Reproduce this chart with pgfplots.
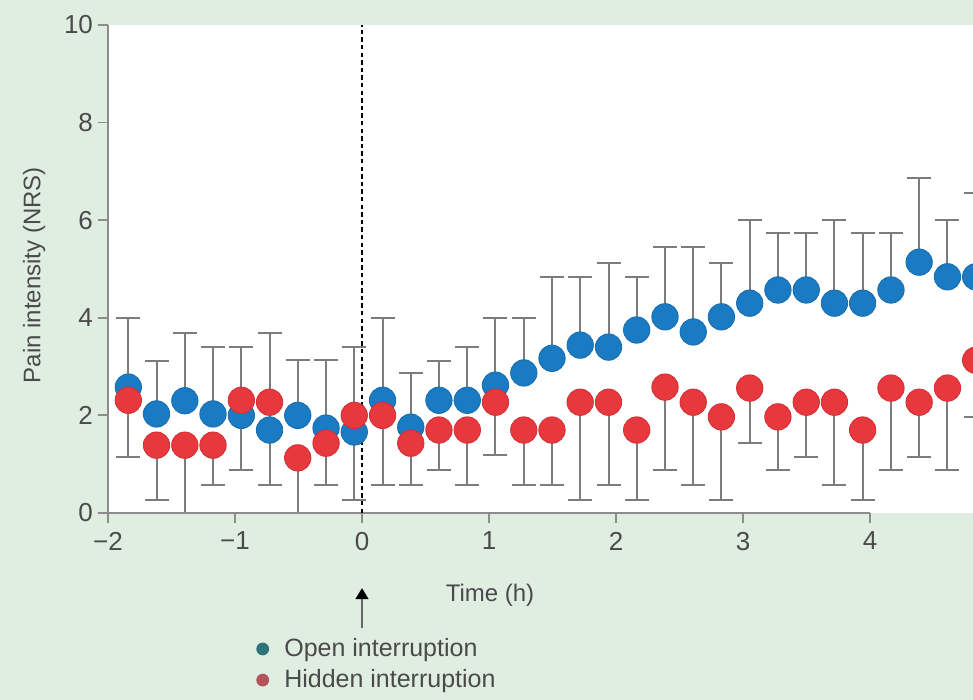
\documentclass[border=0pt]{standalone}
\usepackage{pgfplots}
\pgfplotsset{compat=1.18}
\usepackage{pgfplotstable}
\usepackage{fontspec}
\setmainfont{Liberation Sans}
\usetikzlibrary{arrows.meta}
\definecolor{bggreen}{HTML}{E0EEE2}
\definecolor{ptblue}{HTML}{1A7AC2}
\definecolor{ptblueedge}{HTML}{166DB0}
\definecolor{ptred}{HTML}{E6383D}
\definecolor{ptrededge}{HTML}{D42E34}
\definecolor{legteal}{HTML}{2E7479}
\definecolor{legred}{HTML}{B5535A}
\definecolor{axgray}{HTML}{8C8C8C}
\definecolor{barg}{HTML}{7C7C7C}
\definecolor{txtgray}{HTML}{4A4A4A}

% x: time (h); by: open mean; bu: open upper; ry: hidden mean; rl: hidden lower
\pgfplotstableread{
x      by    bu    ry    rl
-1.840 2.58  4.00  2.31  1.15
-1.618 2.03  3.11  1.39  0.27
-1.395 2.30  3.69  1.39  0.00
-1.173 2.03  3.40  1.39  0.57
-0.950 2.00  3.40  2.31  0.88
-0.728 1.70  3.69  2.27  0.57
-0.506 2.00  3.13  1.13  0.00
-0.283 1.74  3.13  1.43  0.57
-0.061 1.66  3.40  2.00  0.27
 0.162 2.31  4.00  2.00  0.57
 0.384 1.76  2.87  1.43  0.57
 0.606 2.31  3.11  1.70  0.88
 0.829 2.31  3.40  1.70  0.57
 1.051 2.62  4.00  2.27  1.19
 1.274 2.87  4.00  1.70  0.57
 1.496 3.17  4.84  1.70  0.57
 1.718 3.44  4.84  2.27  0.27
 1.941 3.40  5.12  2.27  0.57
 2.163 3.75  4.84  1.70  0.27
 2.386 4.02  5.45  2.58  0.88
 2.608 3.71  5.45  2.27  0.57
 2.830 4.02  5.12  1.97  0.27
 3.053 4.30  6.00  2.56  1.43
 3.275 4.57  5.74  1.97  0.88
 3.498 4.57  5.74  2.27  1.15
 3.720 4.30  6.00  2.27  0.57
 3.942 4.30  5.74  1.70  0.27
 4.165 4.57  5.74  2.56  0.88
 4.387 5.14  6.86  2.27  1.15
 4.610 4.84  6.00  2.56  0.88
 4.832 4.84  6.55  3.13  1.97
}\datatable

\begin{document}
\begin{tikzpicture}
\fill[bggreen] (-54pt,-93.5pt) rectangle (432.5pt,256.5pt);
\useasboundingbox (-54pt,-93.5pt) rectangle (432.5pt,256.5pt);
\clip (-54pt,-93.5pt) rectangle (432.5pt,256.5pt);
\begin{axis}[
  at={(0pt,0pt)}, anchor=south west,
  scale only axis, width=432.5pt, height=244pt,
  xmin=-2, xmax=4.811, ymin=0, ymax=10,
  clip=false,
  axis background/.style={fill=white},
  axis x line*=bottom, axis y line*=left,
  x axis line style={draw=none},
  y axis line style={axgray, line width=1pt},
  tick align=outside,
  major tick length=5pt,
  tick style={axgray, line width=0.9pt},
  xtick={-2,-1,0,1,2,3,4},
  xticklabels={−2,−1,0,1,2,3,4},
  ytick={0,2,4,6,8,10},
  yticklabels={0,2,4,6,8,10},
  ticklabel style={font=\fontsize{13}{15}\selectfont, text=txtgray},
  xticklabel style={yshift=-1pt},
  yticklabel style={xshift=1pt},
  xlabel={Time (h)},
  xlabel style={at={(axis description cs:0.4416,-0.168)}, anchor=center, font=\fontsize{12}{14}\selectfont, text=txtgray},
  ylabel={Pain intensity (NRS)},
  ylabel style={at={(axis description cs:-0.0855,0.4877)}, anchor=center, font=\fontsize{12}{14}\selectfont, text=txtgray},
  legend style={at={(axis description cs:0.171,-0.250)}, anchor=north west, draw=none, fill=none,
    inner sep=0pt, font=\fontsize{12.5}{14}\selectfont, text=txtgray,
    nodes={inner sep=1.5pt}, row sep=2pt},
  legend cell align=left,
]
% error bars (behind markers)
\addplot[forget plot, draw=none, mark=none,
  error bars/.cd, y dir=plus, y explicit,
  error bar style={barg, line width=1pt},
  error mark options={rotate=90, barg, line width=1pt, mark size=6pt}]
  table[x=x, y=by, y error plus expr=\thisrow{bu}-\thisrow{by}] {\datatable};
\addplot[forget plot, draw=none, mark=none,
  error bars/.cd, y dir=minus, y explicit,
  error bar style={barg, line width=1pt},
  error mark options={rotate=90, barg, line width=1pt, mark size=6pt}]
  table[x=x, y=ry, y error minus expr=\thisrow{ry}-\thisrow{rl}] {\datatable};
% markers
\addplot[forget plot, only marks, mark=*, mark size=6.6pt,
  mark options={fill=ptblue, draw=ptblueedge, line width=0.4pt}]
  table[x=x, y=by] {\datatable};
\addplot[forget plot, only marks, mark=*, mark size=6.6pt,
  mark options={fill=ptred, draw=ptrededge, line width=0.4pt}]
  table[x=x, y=ry] {\datatable};
% x axis line from -2 to 4
\draw[axgray, line width=1pt] (axis cs:-2,0) -- (axis cs:4,0);
% interruption line
\draw[black, line width=1.2pt, dash pattern=on 2.2pt off 1.6pt] (axis cs:0,0) -- (axis cs:0,10);
% arrow marking the interruption
\draw[gray!80!black, line width=0.8pt, -{Triangle[width=6.5pt,length=5.5pt,black]}] (axis cs:0,-2.36) -- (axis cs:0,-1.54);
% legend
\addlegendimage{legend image code/.code={\path[draw=none,fill=none] (0pt,-3pt) rectangle (12.5pt,3pt); \fill[legteal,draw=none] (3.2pt,0pt) circle (3.2pt);}}
\addlegendentry{Open interruption}
\addlegendimage{legend image code/.code={\path[draw=none,fill=none] (0pt,-3pt) rectangle (12.5pt,3pt); \fill[legred,draw=none] (3.2pt,0pt) circle (3.2pt);}}
\addlegendentry{Hidden interruption}
\end{axis}
\end{tikzpicture}
\end{document}
